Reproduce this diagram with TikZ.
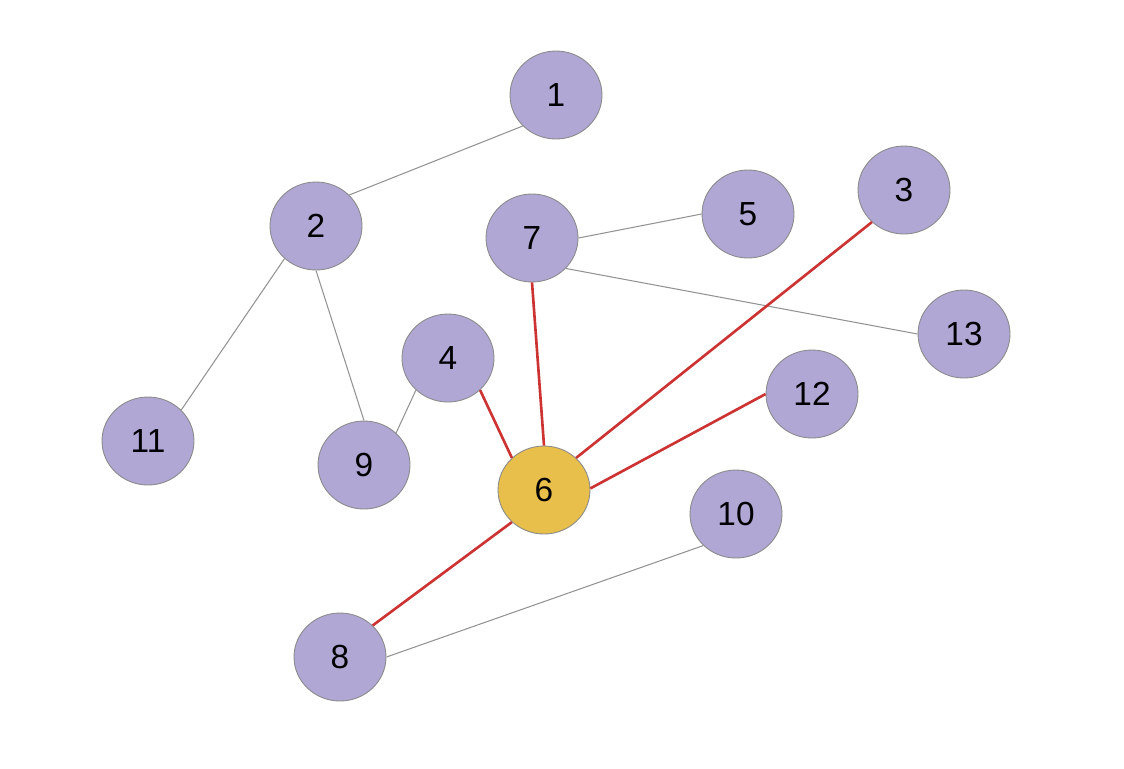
\documentclass[tikz,border=0pt]{standalone}
\usepackage{fontspec}
\setmainfont{Liberation Sans}
\usepackage{xcolor}
\usepackage{tikz}
\usetikzlibrary{shapes.geometric}

\definecolor{vlilac}{HTML}{B0A7D5}
\definecolor{vgold}{HTML}{E8BF4A}
\definecolor{vrim}{HTML}{8A8A8A}
\definecolor{hotred}{HTML}{CC3333}

\begin{document}
\begin{tikzpicture}[
  x=0.02cm, y=-0.02cm,
  vert/.style={ellipse, draw=vrim, line width=0.5pt, fill=vlilac,
               minimum width=1.84cm, minimum height=1.76cm, inner sep=0pt,
               font=\fontsize{19}{22}\selectfont},
  hub/.style={vert, fill=vgold},
  plain/.style={draw=gray!85, line width=0.6pt},
  hot/.style={draw=hotred, line width=1.5pt}
]
\useasboundingbox (0,0) rectangle (1124,768);

% ---- vertices ----
\node[vert] (n1)  at (556,95)  {1};
\node[vert] (n2)  at (316,226) {2};
\node[vert] (n3)  at (904,190) {3};
\node[vert] (n4)  at (448,358) {4};
\node[vert] (n5)  at (748,214) {5};
\node[hub]  (n6)  at (544,490) {6};
\node[vert] (n7)  at (532,238) {7};
\node[vert] (n8)  at (340,657) {8};
\node[vert] (n9)  at (364,465) {9};
\node[vert] (n10) at (736,514) {10};
\node[vert] (n11) at (148,441) {11};
\node[vert] (n12) at (812,394) {12};
\node[vert] (n13) at (964,334) {13};

% ---- ordinary edges ----
\draw[plain] (n1.223) -- (n2.43);
\draw[plain] (n2.226) -- (n11.43);
\draw[plain] (n2.270) -- (n9.90);
\draw[plain] (n9.45)  -- (n4.225);
\draw[plain] (n7.0)   -- (n5.180);
\draw[plain] (n7.318) -- (n13.180);
\draw[plain] (n8.0)   -- (n10.224);

% ---- edges at the hub ----
\draw[hot] (n6.135) -- (n4.315);
\draw[hot] (n6.90)  -- (n7.270);
\draw[hot] (n6.45)  -- (n3.225);
\draw[hot] (n6.2)   -- (n12.180);
\draw[hot] (n6.225) -- (n8.44);

\end{tikzpicture}
\end{document}
